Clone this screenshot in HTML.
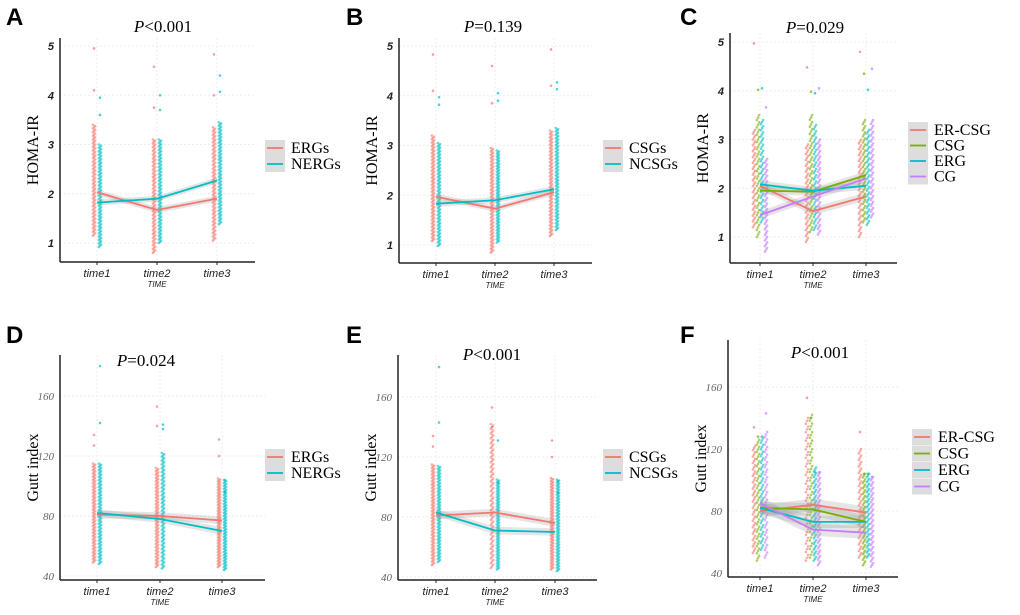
<!DOCTYPE html>
<html><head><meta charset="utf-8">
<style>
html,body{margin:0;padding:0;background:#fff;}
svg{display:block;font-family:"Liberation Sans",sans-serif;}
</style></head>
<body>
<svg id="fig" width="1020" height="615" viewBox="0 0 1020 615" xmlns="http://www.w3.org/2000/svg"></svg>
<script>
// ---- data ----
const times = ["time1","time2","time3"];
const homaTicks = [1,2,3,4,5];
const guttTicks = [40,80,120,160];
// Panel A
const aGroups = ["ERGs","NERGs"];
const aMeans = [[2.03,1.67,1.90],[1.82,1.90,2.27]];
const aLo = [[1.15,0.8,1.05],[0.92,1.0,1.38]];
const aHi = [[3.4,3.1,3.35],[3.0,3.1,3.45]];
const aOut = [[4.1,4.95,3.75,4.58,4.0,4.83],[3.95,3.6,4.0,3.7,4.4,4.07]];
// Panel B
const bGroups = ["CSGs","NCSGs"];
const bMeans = [[1.97,1.73,2.06],[1.83,1.90,2.12]];
const bLo = [[1.08,0.85,1.18],[0.98,1.05,1.3]];
const bHi = [[3.2,2.95,3.3],[3.05,2.9,3.35]];
const bOut = [[4.1,4.83,3.85,4.6,4.2,4.93],[3.97,3.82,4.05,3.9,4.27,4.13]];
// Panel C
const cGroups = ["ER-CSG","CSG","ERG","CG"];
const cMeans = [[2.05,1.53,1.83],[1.95,1.93,2.27],[2.08,1.95,2.05],[1.45,1.83,2.2]];
const cLo = [[1.2,0.9,1.0],[1.0,1.1,1.3],[1.3,1.15,1.25],[0.7,1.05,1.4]];
const cHi = [[3.2,2.9,3.0],[3.5,3.5,3.4],[3.4,3.3,3.2],[2.6,3.0,3.4]];
const cOut = [[4.97,4.48,4.8],[4.02,3.98,4.35],[4.05,3.95,4.02],[3.66,4.05,4.45]];
// Panel D
const dGroups = ["ERGs","NERGs"];
const dMeans = [[81,80,77],[82,78,70]];
const dLo = [[49,46,46],[48,45,44]];
const dHi = [[115,112,105],[115,122,104]];
const dOut = [[127,134,140,153,120,131],[142,180,138,141,96,104]];
// Panel E
const eGroups = ["CSGs","NCSGs"];
const eMeans = [[81,83,76],[83,71,70]];
const eLo = [[48,46,45],[50,45,44]];
const eHi = [[115,142,106],[114,105,105]];
const eOut = [[127,134,140,153,120,131],[143,180,131,103,96,104]];
// Panel F
const fGroups = ["ER-CSG","CSG","ERG","CG"];
const fMeans = [[80,84,79],[82,81,73],[82,73,73],[85,68,66]];
const fLo = [[53,48,50],[48,50,45],[55,48,50],[50,45,44]];
const fHi = [[122,140,120],[126,142,104],[127,108,104],[131,105,102]];
const fOut = [[134,153,131],[128,140,104],[128,105,104],[143,105,102]];

const colors4 = ["#F8766D","#7CAE00","#00BFC4","#C77CFF"];
const colors2 = ["#F8766D","#00BFC4"];

const NS="http://www.w3.org/2000/svg";
const svg=document.getElementById('fig');
function mk(tag,attrs,parent){const e=document.createElementNS(NS,tag);for(const k in attrs)e.setAttribute(k,attrs[k]);(parent||svg).appendChild(e);return e;}

function panel(cfg){
  const g=mk('g',{});
  
  
  const y=v=>cfg.py0+(v-cfg.v0)*(cfg.py1-cfg.py0)/(cfg.v1-cfg.v0);
  const x=i=>cfg.xs[i];
  const n=cfg.groups.length, cols=n===4?colors4:colors2;
  const offs=n===4?[-6,-2,2,6]:[-3,3];
  const L=mk('text',{x:cfg.lx,y:cfg.ly,'font-size':24,'font-weight':'bold',fill:'#000'},g);L.textContent=cfg.letter;
  
  
  cfg.ticks.forEach(t=>{mk('line',{x1:cfg.ax,x2:cfg.axEnd,y1:y(t),y2:y(t),stroke:'#eee','stroke-dasharray':'2,2'},g);});
  times.forEach((t,i)=>{mk('line',{x1:x(i),x2:x(i),y1:cfg.top,y2:cfg.bot,stroke:'#eee','stroke-dasharray':'2,2'},g);});
  for(let s=0;s<n;s++){
    for(let i=0;i<3;i++){
      const lo=cfg.lo[s][i],hi=cfg.hi[s][i];
      const steps=n===4?50:90;
      for(let k=0;k<=steps;k++){
        const v=lo+(hi-lo)*k/steps;
        mk('circle',{cx:x(i)+offs[s]+((k%3)-1)*1.1,cy:y(v),r:1.3,fill:cols[s],'fill-opacity':0.6},g);
      }
    }
    const outs=cfg.out[s];
    outs.forEach((v,j)=>{const i=Math.floor(j*3/outs.length);mk('circle',{cx:x(i)+offs[s],cy:y(v),r:1.3,fill:cols[s],'fill-opacity':0.7},g);});
  }
  for(let s=0;s<n;s++){
    const m=cfg.means[s];
    const up=m.map((v,i)=>x(i)+','+y(v+cfg.band)).join(' ');
    const dn=m.map((v,i)=>x(i)+','+y(v-cfg.band)).reverse().join(' ');
    mk('polygon',{points:up+' '+dn,fill:'#999','fill-opacity':0.25},g);
  }
  for(let s=0;s<n;s++){
    const m=cfg.means[s];
    const p=mk('polyline',{points:m.map((v,i)=>x(i)+','+y(v)).join(' '),fill:'none',stroke:cols[s],'stroke-width':1.8},g);
    
    
  }
  mk('line',{x1:cfg.ax,x2:cfg.ax,y1:cfg.top,y2:cfg.bot,stroke:'#222','stroke-width':1.5},g);
  mk('line',{x1:cfg.ax,x2:cfg.axEnd,y1:cfg.bot,y2:cfg.bot,stroke:'#222','stroke-width':1.5},g);
  cfg.ticks.forEach(t=>{
    const tt=mk('text',{x:cfg.ax-6,y:y(t)+4,'font-size':cfg.serifTicks?11:11,'text-anchor':'end',fill:cfg.serifTicks?'#666':'#222','font-style':'italic','font-weight':cfg.serifTicks?'normal':'bold','font-family':cfg.serifTicks?'Liberation Serif, serif':'Liberation Sans, sans-serif'},g);
    tt.textContent=t;
    
    
  });
  times.forEach((t,i)=>{
    mk('line',{x1:x(i),x2:x(i),y1:cfg.bot,y2:cfg.bot+3,stroke:'#222'},g);
    const tt=mk('text',{x:x(i),y:cfg.bot+15,'font-size':11,'text-anchor':'middle','font-style':'italic',fill:'#222'},g);
    tt.textContent=t;
    
    
  });
  const xt=mk('text',{x:x(1),y:cfg.bot+25,'font-size':8,'text-anchor':'middle','font-style':'italic',fill:'#222'},g);xt.textContent='TIME';
  
  
  const yt=mk('text',{x:0,y:0,'font-size':16,'text-anchor':'middle',fill:'#000','font-family':'Liberation Serif, serif',transform:`translate(${cfg.ax-22},${(cfg.top+cfg.bot)/2}) rotate(-90)`},g);
  yt.textContent=cfg.ylab;
  
  
  const ti=mk('text',{x:cfg.tx,y:cfg.ty,'font-size':17,'text-anchor':'middle',fill:'#000','font-family':'Liberation Serif, serif'},g);
  ti.innerHTML='<tspan font-style="italic">P</tspan>'+cfg.title;
  
  
  for(let s=0;s<n;s++){
    const ly=cfg.legY+s*cfg.legDy;
    mk('rect',{x:cfg.legX,y:ly-8,width:20,height:16,fill:'#ddd'},g);
    mk('line',{x1:cfg.legX+2,x2:cfg.legX+18,y1:ly,y2:ly,stroke:cols[s],'stroke-width':1.8},g);
    const lt=mk('text',{x:cfg.legX+26,y:ly+5,'font-size':16,fill:'#000','font-family':'Liberation Serif, serif'},g);
    lt.textContent=cfg.groups[s];
    
    
  }
}

panel({letter:'A',lx:6,ly:25,ax:60,axEnd:255,top:38,bot:262,xs:[97,157,217],v0:1,py0:243,v1:5,py1:46,ticks:homaTicks,band:0.06,
  groups:aGroups,means:aMeans,lo:aLo,hi:aHi,out:aOut,ylab:'HOMA-IR',tx:163,ty:32,title:'&lt;0.001',legX:265,legY:148,legDy:16});
panel({letter:'B',lx:346,ly:25,ax:399,axEnd:592,top:38,bot:263,xs:[436,495,554],v0:1,py0:245,v1:5,py1:46,ticks:homaTicks,band:0.06,
  groups:bGroups,means:bMeans,lo:bLo,hi:bHi,out:bOut,ylab:'HOMA-IR',tx:493,ty:32,title:'=0.139',legX:603,legY:148,legDy:16});
panel({letter:'C',lx:680,ly:25,ax:730,axEnd:897,top:33,bot:263,xs:[760,813,866],v0:1,py0:237,v1:5,py1:42,ticks:homaTicks,band:0.08,
  groups:cGroups,means:cMeans,lo:cLo,hi:cHi,out:cOut,ylab:'HOMA-IR',tx:815,ty:33,title:'=0.029',legX:908,legY:130,legDy:15.5});
panel({letter:'D',lx:6,ly:343,ax:60,axEnd:265,top:355,bot:580,xs:[97,160,222],v0:40,py0:576,v1:160,py1:396,ticks:guttTicks,band:2.5,serifTicks:true,
  groups:dGroups,means:dMeans,lo:dLo,hi:dHi,out:dOut,ylab:'Gutt index',tx:146,ty:366,title:'=0.024',legX:265,legY:457,legDy:16});
panel({letter:'E',lx:346,ly:343,ax:398,axEnd:597,top:355,bot:580,xs:[436,495,555],v0:40,py0:577,v1:160,py1:397,ticks:guttTicks,band:2.5,serifTicks:true,
  groups:eGroups,means:eMeans,lo:eLo,hi:eHi,out:eOut,ylab:'Gutt index',tx:492,ty:360,title:'&lt;0.001',legX:603,legY:457,legDy:16});
panel({letter:'F',lx:680,ly:343,ax:728,axEnd:898,top:340,bot:577,xs:[760,813,866],v0:40,py0:573,v1:160,py1:387,ticks:guttTicks,band:4,serifTicks:true,
  groups:fGroups,means:fMeans,lo:fLo,hi:fHi,out:fOut,ylab:'Gutt index',tx:820,ty:358,title:'&lt;0.001',legX:912,legY:437,legDy:16.5});
</script>
</body></html>
